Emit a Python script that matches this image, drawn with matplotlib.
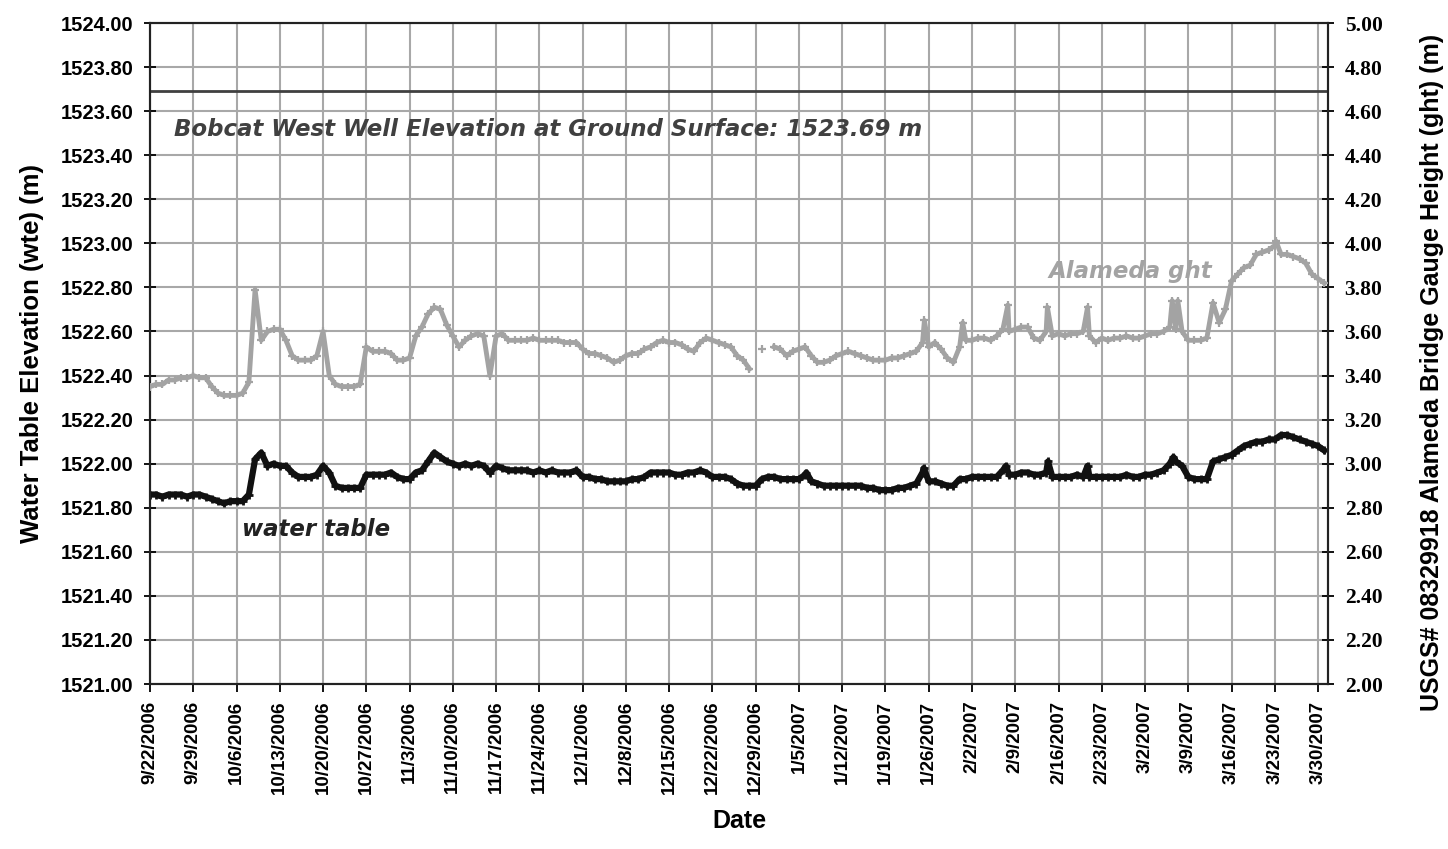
import numpy as np
import pandas as pd
import matplotlib
matplotlib.use("Agg")
import matplotlib.pyplot as plt

# daily readings, day 0 = 9/22/2006
start = pd.Timestamp("2006-09-22")

# water table elevation (m), left axis
wte = [
    1521.86, 1521.86, 1521.85, 1521.86, 1521.86, 1521.86, 1521.85,
    1521.86, 1521.86, 1521.85, 1521.84, 1521.83, 1521.82, 1521.83,
    1521.83, 1521.83, 1521.86, 1522.02, 1522.05, 1521.99, 1522.00,
    1521.99, 1521.99, 1521.96, 1521.94, 1521.94, 1521.94, 1521.95,
    1521.99, 1521.96, 1521.90, 1521.89, 1521.89, 1521.89, 1521.89,
    1521.95, 1521.95, 1521.95, 1521.95, 1521.96, 1521.94, 1521.93,
    1521.93, 1521.96, 1521.97, 1522.01, 1522.05, 1522.03, 1522.01,
    1522.00, 1521.99, 1522.00, 1521.99, 1522.00, 1521.99, 1521.96,
    1521.99, 1521.98, 1521.97, 1521.97, 1521.97, 1521.97, 1521.96,
    1521.97, 1521.96, 1521.97, 1521.96, 1521.96, 1521.96, 1521.97,
    1521.94, 1521.94, 1521.93, 1521.93, 1521.92, 1521.92, 1521.92,
    1521.92, 1521.93, 1521.93, 1521.94, 1521.96, 1521.96, 1521.96,
    1521.96, 1521.95, 1521.95, 1521.96, 1521.96, 1521.97, 1521.96,
    1521.94, 1521.94, 1521.94, 1521.93, 1521.91, 1521.90, 1521.90,
    1521.90, 1521.93, 1521.94, 1521.94, 1521.93, 1521.93, 1521.93,
    1521.93, 1521.95, 1521.92, 1521.91, 1521.90, 1521.90, 1521.90,
    1521.90, 1521.90, 1521.90, 1521.90, 1521.89, 1521.89, 1521.88,
    1521.88, 1521.88, 1521.89, 1521.89, 1521.90, 1521.91, 1521.96,
    1521.92, 1521.92, 1521.91, 1521.90, 1521.90, 1521.93, 1521.93,
    1521.94, 1521.94, 1521.94, 1521.94, 1521.94, 1521.97, 1521.95,
    1521.95, 1521.96, 1521.96, 1521.95, 1521.95, 1521.96, 1521.94,
    1521.94, 1521.94, 1521.94, 1521.95, 1521.94, 1521.94, 1521.94,
    1521.94, 1521.94, 1521.94, 1521.94, 1521.95, 1521.94, 1521.94,
    1521.95, 1521.95, 1521.96, 1521.97, 1522.00, 1522.01, 1521.99,
    1521.94, 1521.93, 1521.93, 1521.93, 1522.01, 1522.02, 1522.03,
    1522.04, 1522.06, 1522.08, 1522.09, 1522.10, 1522.10, 1522.11,
    1522.11, 1522.13, 1522.13, 1522.12, 1522.11, 1522.10, 1522.09,
    1522.08, 1522.06,
]

# Alameda bridge gauge height (m), right axis
ght = [
    3.35, 3.36, 3.36, 3.38, 3.38, 3.39, 3.39,
    3.40, 3.39, 3.39, 3.35, 3.32, 3.31, 3.31,
    3.31, 3.32, 3.37, 3.79, 3.56, 3.60, 3.61,
    3.61, 3.56, 3.49, 3.47, 3.47, 3.47, 3.49,
    3.60, 3.40, 3.36, 3.35, 3.35, 3.35, 3.36,
    3.53, 3.51, 3.51, 3.51, 3.50, 3.47, 3.47,
    3.48, 3.58, 3.62, 3.68, 3.71, 3.70, 3.63,
    3.58, 3.53, 3.56, 3.58, 3.59, 3.58, 3.40,
    3.58, 3.59, 3.56, 3.56, 3.56, 3.56, 3.57,
    3.56, 3.56, 3.56, 3.56, 3.55, 3.55, 3.55,
    3.52, 3.50, 3.50, 3.49, 3.48, 3.46, 3.47,
    3.49, 3.50, 3.50, 3.52, 3.53, 3.55, 3.56,
    3.55, 3.55, 3.54, 3.52, 3.51, 3.55, 3.57,
    3.56, 3.55, 3.54, 3.53, 3.49, 3.47, 3.43,
    np.nan, 3.52, np.nan, 3.53, 3.52, 3.49, 3.51,
    3.52, 3.53, 3.49, 3.46, 3.46, 3.47, 3.49,
    3.50, 3.51, 3.50, 3.49, 3.48, 3.47, 3.47,
    3.47, 3.48, 3.48, 3.49, 3.50, 3.51, 3.55,
    3.53, 3.55, 3.52, 3.48, 3.46, 3.53, 3.56,
    3.56, 3.57, 3.57, 3.56, 3.58, 3.61, 3.60,
    3.61, 3.62, 3.62, 3.57, 3.56, 3.60, 3.58,
    3.59, 3.58, 3.59, 3.59, 3.60, 3.58, 3.55,
    3.57, 3.56, 3.57, 3.57, 3.58, 3.57, 3.57,
    3.58, 3.59, 3.59, 3.60, 3.62, 3.61, 3.60,
    3.56, 3.56, 3.56, 3.57, 3.73, 3.64, 3.70,
    3.83, 3.86, 3.89, 3.90, 3.95, 3.96, 3.97,
    3.99, 3.95, 3.95, 3.94, 3.93, 3.91, 3.86,
    3.84, 3.82,
]

# short-lived spikes between the daily readings
wte_spike_days = [106.2, 125.2, 138.5, 145.3, 151.7, 165.6]
wte_spike_vals = [1521.96, 1521.98, 1521.99, 1522.01, 1521.99, 1522.03]
ght_spike_days = [125.3, 131.5, 138.8, 145.2, 151.7, 165.4, 166.3, 182.2]
ght_spike_vals = [3.65, 3.64, 3.72, 3.71, 3.71, 3.74, 3.74, 4.01]

ground_surface = 1523.69


def merge(vals, sdays, svals):
    d = np.concatenate([np.arange(len(vals), dtype=float), sdays])
    v = np.concatenate([np.array(vals, dtype=float), svals])
    order = np.argsort(d)
    t = start + pd.to_timedelta(d[order], unit="D")
    return t, v[order]


t_wte, v_wte = merge(wte, wte_spike_days, wte_spike_vals)
t_ght, v_ght = merge(ght, ght_spike_days, ght_spike_vals)

plt.rcParams['font.family'] = ['Liberation Sans', 'DejaVu Sans']

fig = plt.figure(figsize=(14.48, 8.49), dpi=100)
ax = fig.add_axes([0.1036, 0.1943, 0.9171 - 0.1036, 0.9729 - 0.1943])
ax2 = ax.twinx()

ax.plot(t_wte, v_wte, color='#111111', lw=4.5, marker='+', ms=6, mew=2, zorder=5)
ax2.plot(t_ght, v_ght, color='#a3a3a3', lw=3.5, marker='+', ms=6, mew=1.6, zorder=5)

ax.axhline(ground_surface, color='#404040', lw=2, zorder=4)

ax.set_ylim(1521.0, 1524.0)
ax2.set_ylim(2.0, 5.0)
ax.set_yticks(np.arange(1521.0, 1524.01, 0.2))
ax2.set_yticks(np.arange(2.0, 5.01, 0.2))
ax.yaxis.set_major_formatter(plt.FormatStrFormatter('%.2f'))
ax2.yaxis.set_major_formatter(plt.FormatStrFormatter('%.2f'))

ticks = pd.date_range("2006-09-22", "2007-03-30", freq="7D")
ax.set_xticks(ticks)
ax.set_xticklabels([f"{d.month}/{d.day}/{d.year}" for d in ticks],
                   rotation=90, fontsize=13.5, fontweight='bold')
ax.set_xlim(start, start + pd.Timedelta(days=190.6))

ax.grid(True, color='#a8a8a8', lw=1.5)
ax.set_axisbelow(True)

for lab in ax.get_yticklabels():
    lab.set_fontsize(14.5)
    lab.set_fontweight('bold')
for lab in ax2.get_yticklabels():
    lab.set_fontsize(15.5)
    lab.set_fontweight('bold')
    lab.set_family('Liberation Serif')

ax.tick_params(axis='y', direction='inout', length=8, width=1.3, pad=8)
ax2.tick_params(axis='y', direction='inout', length=8, width=1.3, pad=8)
ax.tick_params(axis='x', direction='out', length=6, width=1.3, pad=6)
for a in (ax, ax2):
    for s in a.spines.values():
        s.set_linewidth(1.5)
        s.set_color('#222222')

ax.set_ylabel("Water Table Elevation (wte) (m)", fontsize=18.5, fontweight='bold', labelpad=12)
ax2.set_ylabel("USGS# 08329918 Alameda Bridge Gauge Height (ght) (m)", fontsize=18,
               fontweight='bold')
ax2.yaxis.set_label_coords(1.078, 0.472)
ax.set_xlabel("Date", fontsize=18, fontweight='bold', labelpad=11)

ax.text(start + pd.Timedelta(days=3.9), 1523.515,
        "Bobcat West Well Elevation at Ground Surface: 1523.69 m",
        fontsize=16.5, fontweight='bold', style='italic', color='#404040', va='center',
        family='DejaVu Sans')
ax.text(start + pd.Timedelta(days=145.3), 1522.87, "Alameda ght",
        fontsize=16.5, fontweight='bold', style='italic', color='#a3a3a3', va='center',
        family='DejaVu Sans')
ax.text(start + pd.Timedelta(days=14.9), 1521.70, "water table",
        fontsize=16.5, fontweight='bold', style='italic', color='#222222', va='center',
        family='DejaVu Sans')

fig.savefig("out.png", dpi=100)
